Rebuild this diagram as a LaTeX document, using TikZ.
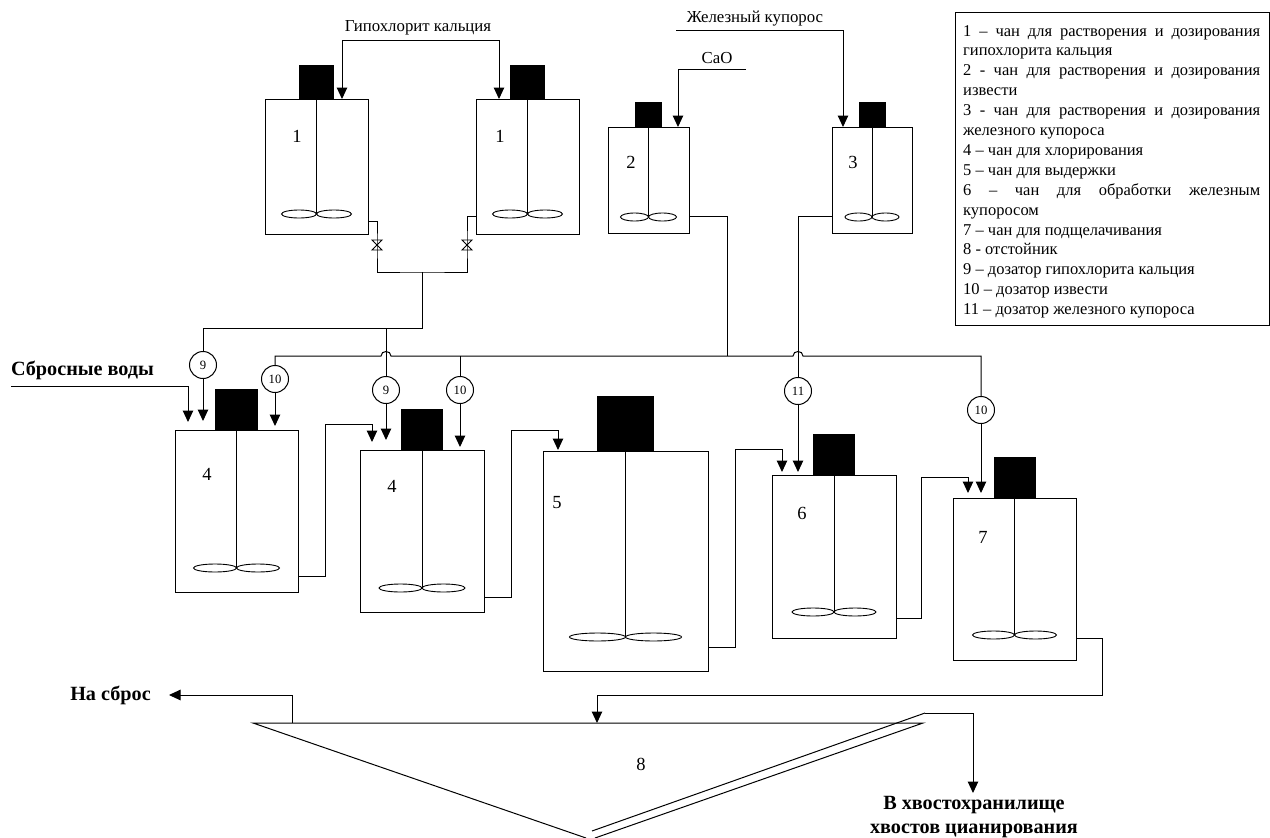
\documentclass[tikz,border=0pt]{standalone}
\usepackage{fontspec}
\setmainfont{Liberation Serif}
\usetikzlibrary{arrows.meta}
\tikzset{
  pipe/.style={draw=black,line width=1pt,line join=miter},
  flow/.style={pipe,-{Triangle[length=11.5pt,width=10.5pt]}},
  tankbox/.style={draw=black,line width=1pt,rectangle,inner sep=0pt,outer sep=0pt,anchor=north west},
  doser/.style={draw=black,fill=white,line width=1pt,circle,minimum size=27pt,inner sep=0pt,font=\fontsize{12.7}{14}\selectfont},
  lbl/.style={inner sep=0pt,font=\fontsize{16.8}{19}\selectfont},
  num/.style={inner sep=0pt,font=\fontsize{18.5}{20}\selectfont},
  boldlbl/.style={inner sep=0pt,align=center,font=\fontsize{20.2}{24.2}\selectfont\bfseries},
}
% name, x0, x1, y0, y1, motor width, motor top, impeller half width, impeller y
\newcommand{\tank}[9]{%
  \pgfmathsetmacro{\tw}{#3-#2}\pgfmathsetmacro{\th}{#5-#4}%
  \pgfmathsetmacro{\cx}{(#2+#3)/2}\pgfmathsetmacro{\mw}{#6/2}\pgfmathsetmacro{\iw}{#8/2}%
  \node[tankbox,minimum width=\tw pt,minimum height=\th pt] (#1) at (#2,#4) {};
  \fill[black] (\cx-\mw,#7) rectangle (\cx+\mw,#4);
  \draw[pipe] (\cx,#4) -- (\cx,#9);
  \draw[line width=0.9pt] (\cx-\iw,#9) ellipse [x radius=\iw pt,y radius=4pt];
  \draw[line width=0.9pt] (\cx+\iw,#9) ellipse [x radius=\iw pt,y radius=4pt];
}
\newcommand{\valve}[2]{\draw[line width=0.9pt] (#1-5,#2-5) -- (#1+5,#2-5) -- (#1-5,#2+5) -- (#1+5,#2+5) -- cycle;}
\begin{document}
\begin{tikzpicture}[x=1pt,y=-1pt]
\useasboundingbox (0,0) rectangle (1270,838);
\tank{ta}{265}{368}{99}{234}{35}{65}{35}{214}
\tank{tb}{476}{579}{99}{234}{35}{65}{35}{214}
\tank{tc}{608}{689}{127}{233}{27}{102}{28}{217}
\tank{td}{832}{912}{127}{233}{27}{102}{27}{217}
\tank{te}{175}{298}{430}{592}{43}{389}{43}{568}
\tank{tf}{360}{484}{450}{612}{42}{409}{43}{588}
\tank{tg}{543}{708}{451}{671}{57}{396}{56}{637}
\tank{th}{772}{896}{475}{638}{42}{434}{42}{612}
\tank{ti}{953}{1076}{498}{660}{42}{457}{42}{635}

\node[num] (na) at (297,136) {1};
\node[num] (nb) at (500,136) {1};
\node[num] (nc) at (631,162) {2};
\node[num] (nd) at (853,162) {3};
\node[num] (ne) at (207,474) {4};
\node[num] (nf) at (392,486) {4};
\node[num] (ng) at (557,503) {5};
\node[num] (nh) at (802,513) {6};
\node[num] (ni) at (983,537) {7};
\node[num] (nj) at (641,764) {8};

% reagent feeds
\node[lbl] (hypo) at (418,28) {Гипохлорит кальция};
\coordinate (hl) at (342,40); \coordinate (hr) at (499,40);
\draw[pipe] (hl) -- (hr);
\draw[flow] (hl) -- (hl |- ta.north);
\draw[flow] (hr) -- (hr |- tb.north);
\node[lbl] (cao) at (717,58) {CaO};
\coordinate (caoa) at (746,69); \coordinate (caob) at (678,69);
\draw[flow] (caoa) -- (caob) -- (caob |- tc.north);
\node[lbl] (iron) at (755,19) {Железный купорос};
\coordinate (irona) at (676,30); \coordinate (ironb) at (843,30);
\draw[flow] (irona) -- (ironb) -- (ironb |- td.north);

% hypochlorite outlets and valves
\coordinate (va) at (377,245); \coordinate (vb) at (467,245);
\coordinate (col) at (422,272);
\draw[pipe] (ta.east |- 0,221) -| (va) |- (col) -| (vb) |- (tb.west |- 0,216);
\valve{377}{245}
\valve{467}{245}
\coordinate (hbus) at (203,328);
\node[doser] (da) at (203,365) {9};
\node[doser] (db) at (386,390) {9};
\draw[pipe] (col) -- (col |- hbus) -- (hbus) -- (da);
\draw[flow] (da) -- (da |- 0,421);
\draw[pipe] (db |- hbus) -- (db);
\draw[flow] (db) -- (db |- 0,440);

% lime bus
\node[doser] (dc) at (275,379) {10};
\node[doser] (dd) at (460,390) {10};
\node[doser] (de) at (981,410) {10};
\node[doser] (df) at (798,391) {11};
\draw[pipe] (dc) -- (dc |- 0,356) -- (381,356) .. controls (381,350) and (391,350) .. (391,356)
  -- (793,356) .. controls (793,350) and (803,350) .. (803,356) -- (de |- 0,356) -- (de);
\draw[pipe] (dd |- 0,356) -- (dd);
\draw[pipe] (tc.east |- 0,216) -| (727,356);
\draw[pipe] (td.west |- 0,216) -| (df);
\draw[flow] (dc) -- (dc |- 0,426);
\draw[flow] (dd) -- (dd |- 0,447);
\draw[flow] (df) -- (df |- 0,472);
\draw[flow] (de) -- (de |- 0,493);

% wastewater in
\node[boldlbl] (waste) at (82.5,370) {Сбросные воды};
\coordinate (wa) at (11,386); \coordinate (wb) at (188,386);
\draw[flow] (wa) -- (wb) -- (wb |- 0,422);

% tank cascade
\draw[flow] (te.east |- 0,576) -- (325,576) -- (325,424) -- (372,424) -- (372,442);
\draw[flow] (tf.east |- 0,597) -- (511,597) -- (511,430) -- (558,430) -- (558,450);
\draw[flow] (tg.east |- 0,647) -- (735,647) -- (735,449) -- (782,449) -- (782,472);
\draw[flow] (th.east |- 0,618) -- (921,618) -- (921,477) -- (968,477) -- (968,493);
\draw[flow] (ti.east |- 0,638) -- (1102,638) -- (1102,695) -- (597,695) -- (597,723);

% settler
\coordinate (sa) at (253,723); \coordinate (sb) at (923,723); \coordinate (sc) at (586,838);
\coordinate (sd) at (595,838); \coordinate (se) at (925,713); \coordinate (sf) at (592,831);
\draw[pipe] (sc) -- (sa) -- (sb) -- (sd);
\draw[pipe] (sf) -- (se);
\coordinate (sg) at (973,713);
\draw[flow] (se) -- (sg) -- (sg |- 0,793);
\node[boldlbl] (tail) at (974,817) {В хвостохранилище\\хвостов цианирования};
\node[boldlbl] (drop) at (110.5,695) {На сброс};
\coordinate (dra) at (292,723); \coordinate (drb) at (292,695); \coordinate (drc) at (169,695);
\draw[flow] (dra) -- (drb) -- (drc);

% legend
\node[draw=black,line width=1pt,anchor=north west,inner sep=0pt,minimum width=314pt,minimum height=313pt] (legbox) at (955,12) {};
\node[anchor=north west,inner sep=0pt,text width=297pt,align=justify,font=\fontsize{16.5}{19.9}\selectfont] (leg) at (963,25) {%
\hyphenpenalty=10000\emergencystretch=40pt\parindent=0pt\relax
1 – чан для растворения и дозирования гипохлорита кальция\par
2 - чан для растворения и дозирования извести\par
3 - чан для растворения и дозирования железного купороса\par
4 – чан для хлорирования\par
5 – чан для выдержки\par
6 – чан для обработки железным купоросом\par
7 – чан для подщелачивания\par
8 - отстойник\par
9 – дозатор гипохлорита кальция\par
10 – дозатор извести\par
11 – дозатор железного купороса\par};
\end{tikzpicture}
\end{document}
